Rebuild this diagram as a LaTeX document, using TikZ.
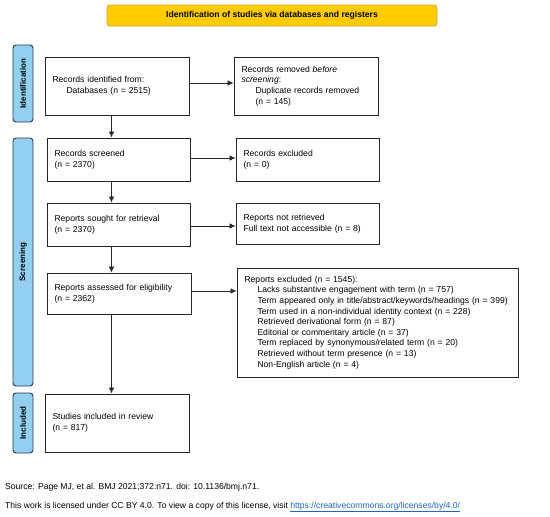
\documentclass[tikz,border=0pt]{standalone}
\usepackage{fontspec}
\setmainfont{Liberation Sans}
\usetikzlibrary{arrows.meta,calc}
\definecolor{titlefill}{HTML}{FFCC00}
\definecolor{titledraw}{HTML}{E2A12E}
\definecolor{sidefill}{HTML}{92CFF1}
\definecolor{sidedraw}{HTML}{2B3A4A}
\definecolor{linkblue}{HTML}{1F66C7}
\begin{document}
\begin{tikzpicture}[x=1pt,y=-1pt,
  every node/.style={font=\fontsize{8.6}{10.6}\selectfont},
  box/.style={draw=black!85,line width=0.9pt,rectangle,inner xsep=7.5pt,inner ysep=0pt,align=left,anchor=center},
  side/.style={draw=sidedraw,fill=sidefill,line width=0.9pt,rounded corners=3pt,rotate=90,minimum height=20pt,inner sep=0pt,font=\fontsize{8}{10}\selectfont\bfseries},
  arr/.style={draw=black!85,line width=0.7pt,-{Latex[length=6pt,width=5.5pt]}},
  ln/.style={draw=black!85,line width=0.7pt}]
\useasboundingbox (0,0) rectangle (550,517);
\fill[white] (0,0) rectangle (550,517);

\node[draw=titledraw,fill=titlefill,line width=0.8pt,rounded corners=3pt,minimum width=330pt,minimum height=21pt,inner sep=0pt,font=\fontsize{8.6}{10}\selectfont\bfseries] (title) at (272,15.5) {Identification of studies via databases and registers};

\node[side,minimum width=77pt] (sid) at (23,83.5) {Identification};
\node[side,minimum width=248pt] (sscr) at (23,262) {Screening};
\node[side,minimum width=60pt] (sinc) at (23,423) {Included};

\node[box,text width=129pt,minimum height=58pt] (b1) at (117,86) {Records identified from:\\\hspace*{14pt}Databases (n = 2515)\\[5pt]};
\node[box,text width=129pt,minimum height=58pt] (b2) at (306,86) {Records removed \textit{before}\\\textit{screening}:\\\hspace*{14pt}Duplicate records removed\\\hspace*{14pt}(n = 145)\\[-4pt]};
\node[box,text width=128pt,minimum height=43pt] (b3) at (118.5,159.5) {Records screened\\(n = 2370)};
\node[box,text width=128pt,minimum height=43pt] (b4) at (307.5,159.5) {Records excluded\\(n = 0)\\[-3pt]};
\node[box,text width=128pt,minimum height=43pt] (b5) at (118.5,224.5) {Reports sought for retrieval\\(n = 2370)};
\node[box,text width=128pt,minimum height=41pt] (b6) at (307.5,223.5) {Reports not retrieved\\Full text not accessible (n = 8)\\[-3pt]};
\node[box,text width=129pt,minimum height=41pt] (b7) at (119,293.5) {Reports assessed for eligibility\\(n = 2362)\\[-1pt]};
\node[box,text width=266pt,minimum height=109pt] (b8) at (377.5,322.5) {Reports excluded (n = 1545):\\
\hspace*{13pt}Lacks substantive engagement with term (n = 757)\\
\hspace*{13pt}Term appeared only in title/abstract/keywords/headings (n = 399)\\
\hspace*{13pt}Term used in a non-individual identity context (n = 228)\\
\hspace*{13pt}Retrieved derivational form (n = 87)\\
\hspace*{13pt}Editorial or commentary article (n = 37)\\
\hspace*{13pt}Term replaced by synonymous/related term (n = 20)\\
\hspace*{13pt}Retrieved without term presence (n = 13)\\
\hspace*{13pt}Non-English article (n = 4)\\[-1pt]};
\node[box,text width=129pt,minimum height=58pt] (b9) at (117,423) {Studies included in review\\(n = 817)\\[10pt]};

\coordinate (vx) at (111.5,0);
\draw[arr] (b1.south -| vx) -- (b3.north -| vx);
\draw[arr] (b3.south -| vx) -- (b5.north -| vx);
\draw[arr] (b5.south -| vx) -- (b7.north -| vx);
\draw[arr] (b7.south -| vx) -- (b9.north -| vx);

\draw[arr] ([yshift=3pt]b1.east) -- ([yshift=3pt]b1.east -| b2.west);
\draw[arr] ([yshift=1.5pt]b3.east) -- ([yshift=1.5pt]b3.east -| b4.west);
\draw[arr] ([yshift=-1.5pt]b5.east) -- ([yshift=-1.5pt]b5.east -| b6.west);
\draw[arr] ([yshift=2.5pt]b7.east) -- ([yshift=2.5pt]b7.east -| b8.west);

\node[anchor=west,inner sep=0pt] (src) at (5,487) {Source: Page MJ, et al. BMJ 2021;372:n71. doi: 10.1136/bmj.n71.};
\node[anchor=west,inner sep=0pt] (lic) at (5,507) {This work is licensed under CC BY 4.0. To view a copy of this license, visit \textcolor{linkblue}{\underline{https://creativecommons.org/licenses/by/4.0/}}};
\end{tikzpicture}
\end{document}
